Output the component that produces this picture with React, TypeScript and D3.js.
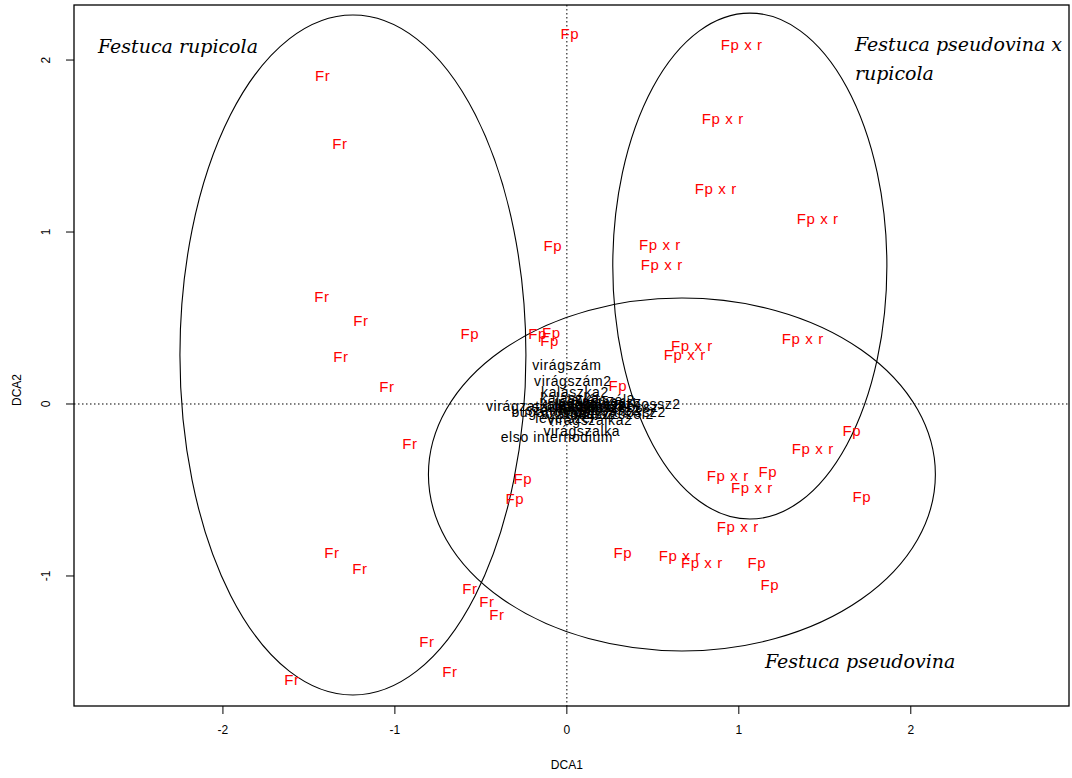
import React from "react";
import * as d3 from "d3";

const width = 1072;
const height = 778;

// sample scores (DCA1, DCA2)
const frX = [-1.42, -1.32, -1.424, -1.198, -1.314, -1.047, -0.913, -1.366, -1.203, -0.564, -0.465, -0.407, -0.814, -0.68, -1.599];
const frY = [1.907, 1.512, 0.622, 0.483, 0.273, 0.099, -0.233, -0.866, -0.959, -1.076, -1.151, -1.227, -1.384, -1.558, -1.605];

const fpX = [0.017, -0.081, -0.564, -0.17, -0.09, -0.1, 0.297, -0.256, -0.302, 0.326, 1.105, 1.18, 1.169, 1.657, 1.715];
const fpY = [2.151, 0.919, 0.407, 0.41, 0.415, 0.37, 0.105, -0.436, -0.552, -0.866, -0.924, -1.052, -0.395, -0.157, -0.541];

const fxrX = [1.017, 0.907, 0.866, 1.459, 0.541, 0.552, 0.727, 0.686, 1.372, 1.43, 0.936, 1.076, 0.994, 0.657, 0.785];
const fxrY = [2.087, 1.657, 1.25, 1.076, 0.924, 0.808, 0.337, 0.285, 0.378, -0.262, -0.419, -0.488, -0.715, -0.884, -0.924];

// variable scores (crowded around the origin)
const varNames = [
  "virágszám", "virágszám2", "kalászka2", "kalászka", "virágzat hossz", "toklászhossz2",
  "toklászhossz", "levélhossz", "levélhossz2", "szárhossz", "szárhossz2", "bugahossz",
  "pelyvahossz2", "pelyvahossz", "virágszalka2", "virágszalka", "elso internodium",
  "levélszél", "kalászka szél", "pelyva szél", "toklász szél2", "szálka hossz", "levélszél2",
];
const varX = [0.0, 0.035, 0.047, 0.017, -0.186, 0.384, 0.279, 0.134, 0.192, -0.041, 0.076, -0.11, 0.308, 0.192, 0.134, 0.087, -0.058, -0.012, 0.105, 0.15, 0.25, 0.05, 0.2];
const varY = [0.227, 0.134, 0.07, 0.035, -0.012, 0.0, -0.017, -0.006, -0.035, -0.035, -0.058, -0.047, -0.047, 0.012, -0.093, -0.157, -0.192, -0.081, 0.0, -0.02, -0.06, -0.02, 0.02];

// group ellipses
const ellCx = [-1.244, 1.064, 0.669];
const ellCy = [0.285, 0.802, -0.41];
const ellRx = [1.006, 0.797, 1.474];
const ellRy = [1.977, 1.471, 1.026];

// group names written on the plot
const groupLines = ["Festuca rupicola", "Festuca pseudovina x", "rupicola", "Festuca pseudovina"];
const groupLineX = [-2.727, 1.675, 1.675, 1.152];
const groupLineY = [2.04, 2.05, 1.885, -1.537];

const xTicks = [-2, -1, 0, 1, 2];
const yTicks = [-1, 0, 1, 2];

const App = () => {
  const left = 74, right = 1069, top = 5, bottom = 706;
  const x = d3.scaleLinear().domain([-2.866, 2.92]).range([left, right]);
  const y = d3.scaleLinear().domain([-1.756, 2.32]).range([bottom, top]);

  const sans = "'Liberation Sans', Arial, sans-serif";
  const serif = "'DejaVu Serif', serif";

  const redLabel = (xs: number[], ys: number[], txt: string) =>
    xs.map((v, i) => (
      <text key={txt + i} x={x(v)} y={y(ys[i])} dy="0.35em" textAnchor="middle"
        fill="#ff0000" fontSize={15} letterSpacing={0.6} fontFamily={sans}>
        {txt}
      </text>
    ));

  return (
    <svg width={width} height={height}
      style={{ position: "absolute", left: 0, top: 0, background: "#fff" }}>
      <rect x={0} y={0} width={width} height={height} fill="#fff" />

      {/* zero lines */}
      <line x1={x(0)} x2={x(0)} y1={top} y2={bottom} stroke="#000" strokeDasharray="1.5,2.5" />
      <line x1={left} x2={right} y1={y(0)} y2={y(0)} stroke="#000" strokeDasharray="1.5,2.5" />

      {ellCx.map((cx, i) => (
        <ellipse key={"e" + i} cx={x(cx)} cy={y(ellCy[i])}
          rx={x(cx + ellRx[i]) - x(cx)} ry={y(ellCy[i]) - y(ellCy[i] + ellRy[i])}
          fill="none" stroke="#000" strokeWidth={1.1} />
      ))}

      {varNames.map((n, i) => (
        <text key={"v" + i} x={x(varX[i])} y={y(varY[i])} dy="0.35em" textAnchor="middle"
          fill="#000" fontSize={14} letterSpacing={0.6} fontFamily={sans}>
          {n}
        </text>
      ))}

      {redLabel(frX, frY, "Fr")}
      {redLabel(fpX, fpY, "Fp")}
      {redLabel(fxrX, fxrY, "Fp x r")}

      {groupLines.map((t, i) => (
        <text key={"g" + i} x={x(groupLineX[i])} y={y(groupLineY[i])}
          fontFamily={serif} fontStyle="italic" fontSize={19} fill="#000">
          {t}
        </text>
      ))}

      {/* box */}
      <rect x={left} y={top} width={right - left} height={bottom - top} fill="none" stroke="#000" strokeWidth={1.3} />

      {/* x axis */}
      {xTicks.map((t) => (
        <g key={"xt" + t}>
          <line x1={x(t)} x2={x(t)} y1={bottom} y2={bottom + 8} stroke="#000" />
          <text x={x(t)} y={bottom + 28} textAnchor="middle" fontSize={12} fontFamily={sans} fill="#000">
            {t < 0 ? "-" + Math.abs(t) : String(t)}
          </text>
        </g>
      ))}
      <text x={x(0)} y={769} textAnchor="middle" fontSize={12} fontFamily={sans} fill="#000">DCA1</text>

      {/* y axis */}
      {yTicks.map((t) => (
        <g key={"yt" + t}>
          <line x1={left - 8} x2={left} y1={y(t)} y2={y(t)} stroke="#000" />
          <text transform={`translate(${left - 24},${y(t)}) rotate(-90)`} textAnchor="middle"
            fontSize={12} fontFamily={sans} fill="#000">
            {t < 0 ? "-" + Math.abs(t) : String(t)}
          </text>
        </g>
      ))}
      <text transform={`translate(21,${y(0) - 14}) rotate(-90)`} textAnchor="middle"
        fontSize={12} fontFamily={sans} fill="#000">DCA2</text>
    </svg>
  );
};

export default App;
